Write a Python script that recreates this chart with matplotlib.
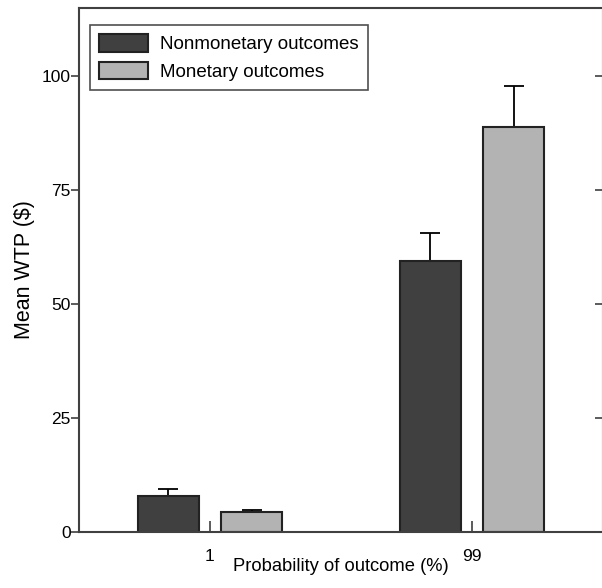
import matplotlib
matplotlib.use("Agg")
import matplotlib.pyplot as plt
import matplotlib.lines as mlines
import numpy as np

plt.rcParams['font.family'] = ['Liberation Sans', 'DejaVu Sans']

categories = ["1", "99"]
series_names = ["Nonmonetary outcomes", "Monetary outcomes"]
nonmonetary = [7.9, 59.4]
monetary = [4.4, 88.8]
nonmonetary_err = [1.5, 6.2]
monetary_err = [0.4, 9.0]
yticks = [0, 25, 50, 75, 100]

colors = ["#404040", "#b3b3b3"]

fig = plt.figure(figsize=(6.02, 5.88), dpi=100)
ax = fig.add_axes([79/602, 1-532/588, (603-79)/602, (532-8)/588])

x = np.arange(len(categories))
w = 0.234
off = 0.159
for i, (vals, errs, col, name) in enumerate(zip([nonmonetary, monetary],
                                                [nonmonetary_err, monetary_err],
                                                colors, series_names)):
    pos = x + (-off if i == 0 else off)
    ax.bar(pos, vals, width=w, color=col, edgecolor="#222222", linewidth=1.5,
           label=name, zorder=2)
    ax.errorbar(pos, vals, yerr=[np.zeros(len(vals)), errs], fmt='none',
                ecolor='black', elinewidth=1.3, capsize=7, capthick=1.3, zorder=1)

ax.set_xlim(-0.5, 1.5)
ax.set_ylim(0, 115)
ax.set_xticks(x)
ax.set_xticklabels(categories)
ax.set_yticks(yticks)

for s in ax.spines.values():
    s.set_color("#404040")
    s.set_linewidth(1.5)

ax.tick_params(axis='y', which='both', left=True, right=True, direction='out',
               length=6, width=1.2, color="#404040", labelsize=12.5, pad=0)
for t in ax.yaxis.get_major_ticks():
    t.tick2line.set_marker(mlines.TICKLEFT)
    t.tick2line.set_markersize(6)
ax.tick_params(axis='x', direction='in', length=8, width=1.2, color="#404040",
               labelsize=12.5, pad=12)

ax.set_xlabel("Probability of outcome (%)", fontsize=13.2, labelpad=-4)
ax.set_ylabel("Mean WTP ($)", fontsize=15.5, labelpad=5)

leg = ax.legend(loc='upper left', bbox_to_anchor=(11/524, 507/524), frameon=True,
                fancybox=False, edgecolor="#222222", fontsize=13.5,
                handlelength=2.6, handleheight=1.05, handletextpad=0.65,
                labelspacing=0.45, borderpad=0.5, borderaxespad=0)
leg.get_frame().set_linewidth(1.2)

fig.savefig("out.png", dpi=100)
